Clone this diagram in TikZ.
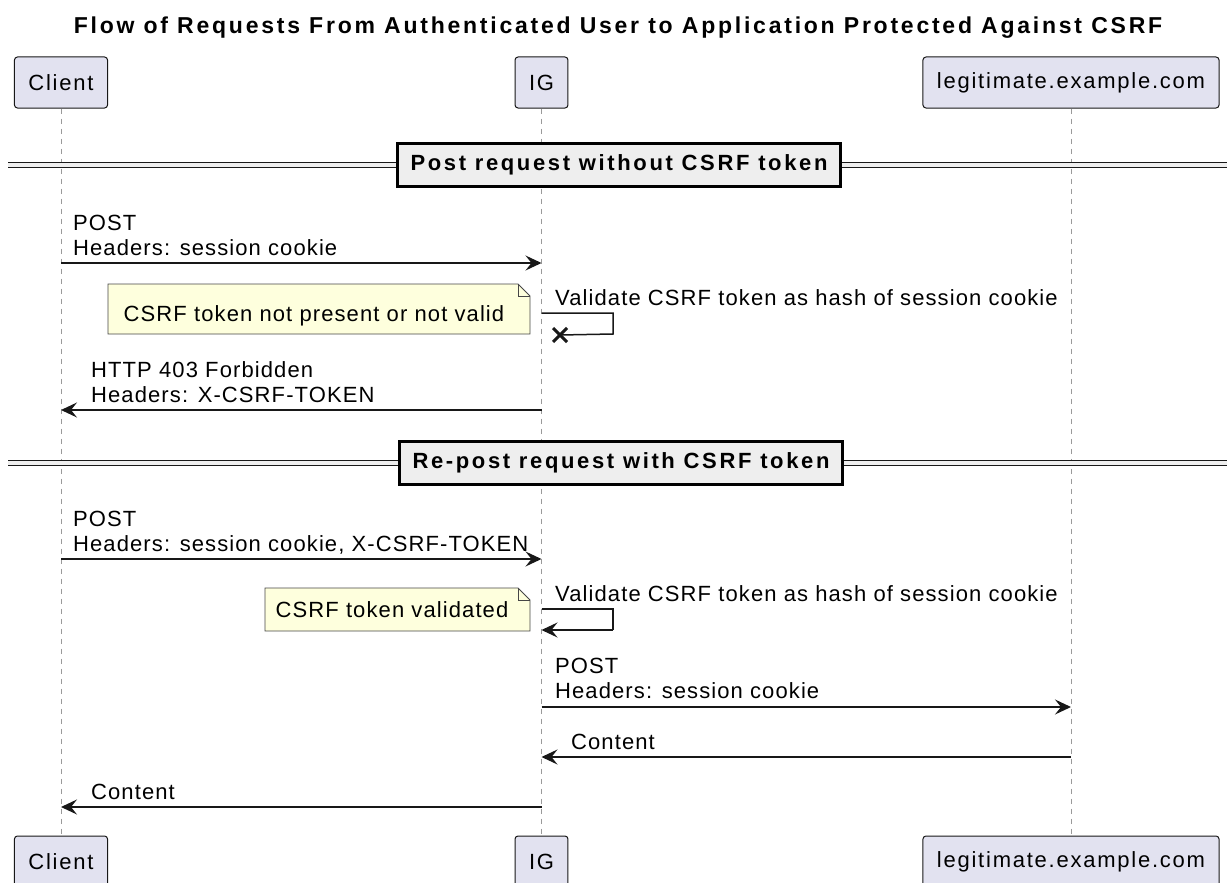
\documentclass[tikz,border=0pt]{standalone}
\usepackage{fontspec}
\setmainfont{Liberation Sans}
\usetikzlibrary{arrows.meta,calc}
\definecolor{partfill}{HTML}{E2E2F0}
\definecolor{notefill}{HTML}{FEFFDD}
\definecolor{divfill}{HTML}{EEEEEE}
\definecolor{ink}{HTML}{181818}
\definecolor{lifegray}{HTML}{9A9A9A}
\newfontfamily\partfont[LetterSpace=8]{Liberation Sans}
\newfontfamily\msgfont[LetterSpace=5]{Liberation Sans}
\newfontfamily\titlefont[LetterSpace=12]{Liberation Sans}
\newfontfamily\divfont[LetterSpace=12]{Liberation Sans}
\tikzset{
  part/.style={draw=ink, fill=partfill, line width=1pt, rounded corners=3pt,
    minimum height=51pt, inner xsep=14pt, inner ysep=0pt,
    font=\partfont\fontsize{22}{25}\selectfont},
  life/.style={draw=lifegray, line width=1pt, dash pattern=on 5pt off 5pt},
  msg/.style={draw=ink, line width=1.5pt, -{Stealth[length=16pt,width=15pt,inset=6pt]}},
  selfline/.style={draw=ink, line width=1.5pt},
  msgtext/.style={anchor=base west, inner sep=0pt, font=\msgfont\fontsize{22}{25}\selectfont},
  notetext/.style={anchor=base, inner sep=0pt, font=\msgfont\fontsize{22}{25}\selectfont},
  notebox/.style={draw=ink!80, fill=notefill, line width=0.8pt},
  divbox/.style={draw=black, fill=divfill, line width=2.5pt, minimum height=43pt,
    inner xsep=13pt, inner ysep=0pt, font=\divfont\bfseries\fontsize{22}{25}\selectfont},
  divline/.style={draw=ink, double=divfill, double distance=3.5pt, line width=1.4pt},
  xmark/.style={draw=ink, line width=3pt}
}
\begin{document}
\begin{tikzpicture}[x=1pt,y=-1pt]
\useasboundingbox (0,0) rectangle (1227,883);

% title
\node[anchor=base, inner sep=0pt, font=\titlefont\bfseries\fontsize{23}{25}\selectfont] (title) at (618,34) {Flow of Requests From Authenticated User to Application Protected Against CSRF};

% participants
\node[part] (ctop) at (61,82.5) {Client};
\node[part] (itop) at (541.5,82.5) {IG};
\node[part] (ltop) at (1071,82.5) {legitimate.example.com};
\node[part] (cbot) at (61,861.5) {Client};
\node[part] (ibot) at (541.5,861.5) {IG};
\node[part] (lbot) at (1071,861.5) {legitimate.example.com};

% lifelines
\draw[life] (ctop.south) -- (cbot.north);
\draw[life] (itop.south) -- (ibot.north);
\draw[life] (ltop.south) -- (lbot.north);

% divider 1
\coordinate (d1l) at (8,165);
\coordinate (d1r) at (1227,165);
\draw[divline] (d1l) -- (d1r);
\node[divbox] (div1) at (619,165) {Post request without CSRF token};

% message 1
\coordinate (c1) at (61,263);
\coordinate (i1) at (541.5,263);
\node[msgtext] (m1a) at (73,230) {POST};
\node[msgtext] (m1b) at (73,255) {Headers: session cookie};
\draw[msg] (c1) -- (i1);

% self message 1 (failed)
\coordinate (s1a) at (541.5,313);
\coordinate (s1b) at (613,313);
\coordinate (s1c) at (613,334);
\coordinate (s1x) at (560,335);
\node[msgtext] (s1t) at (555,305) {Validate CSRF token as hash of session cookie};
\draw[selfline] (s1a) -- (s1b) -- (s1c) -- (s1x);
\draw[xmark] ($(s1x)+(-7,-7)$) -- ($(s1x)+(7,7)$);
\draw[xmark] ($(s1x)+(-7,7)$) -- ($(s1x)+(7,-7)$);

% note 1
\draw[notebox] (108,284) -- (518,284) -- (530,296) -- (530,334) -- (108,334) -- cycle;
\draw[notebox, fill=none] (518,284) -- (518,296) -- (530,296);
\node[notetext] (n1) at (314,321) {CSRF token not present or not valid};

% message 3
\coordinate (i3) at (541.5,410);
\coordinate (c3) at (61,410);
\node[msgtext] (m3a) at (91,377) {HTTP 403 Forbidden};
\node[msgtext] (m3b) at (91,402) {Headers: X-CSRF-TOKEN};
\draw[msg] (i3) -- (c3);

% divider 2
\coordinate (d2l) at (8,463);
\coordinate (d2r) at (1227,463);
\draw[divline] (d2l) -- (d2r);
\node[divbox] (div2) at (621,463) {Re-post request with CSRF token};

% message 4
\coordinate (c4) at (61,559);
\coordinate (i4) at (541.5,559);
\node[msgtext] (m4a) at (73,526) {POST};
\node[msgtext] (m4b) at (73,551) {Headers: session cookie, X-CSRF-TOKEN};
\draw[msg] (c4) -- (i4);

% self message 2
\coordinate (s2a) at (541.5,609);
\coordinate (s2b) at (613,609);
\coordinate (s2c) at (613,630);
\coordinate (s2d) at (541.5,630);
\node[msgtext] (s2t) at (555,601) {Validate CSRF token as hash of session cookie};
\draw[selfline] (s2a) -- (s2b) -- (s2c);
\draw[msg] (s2c) -- (s2d);

% note 2
\draw[notebox] (265,588) -- (518,588) -- (530,600) -- (530,631) -- (265,631) -- cycle;
\draw[notebox, fill=none] (518,588) -- (518,600) -- (530,600);
\node[notetext] (n2) at (392,617) {CSRF token validated};

% message 5
\coordinate (i5) at (541.5,707);
\coordinate (l5) at (1071,707);
\node[msgtext] (m5a) at (555,673) {POST};
\node[msgtext] (m5b) at (555,698) {Headers: session cookie};
\draw[msg] (i5) -- (l5);

% message 6
\coordinate (l6) at (1071,757);
\coordinate (i6) at (541.5,757);
\node[msgtext] (m6) at (571,749) {Content};
\draw[msg] (l6) -- (i6);

% message 7
\coordinate (i7) at (541.5,807);
\coordinate (c7) at (61,807);
\node[msgtext] (m7) at (91,799) {Content};
\draw[msg] (i7) -- (c7);
\end{tikzpicture}
\end{document}
